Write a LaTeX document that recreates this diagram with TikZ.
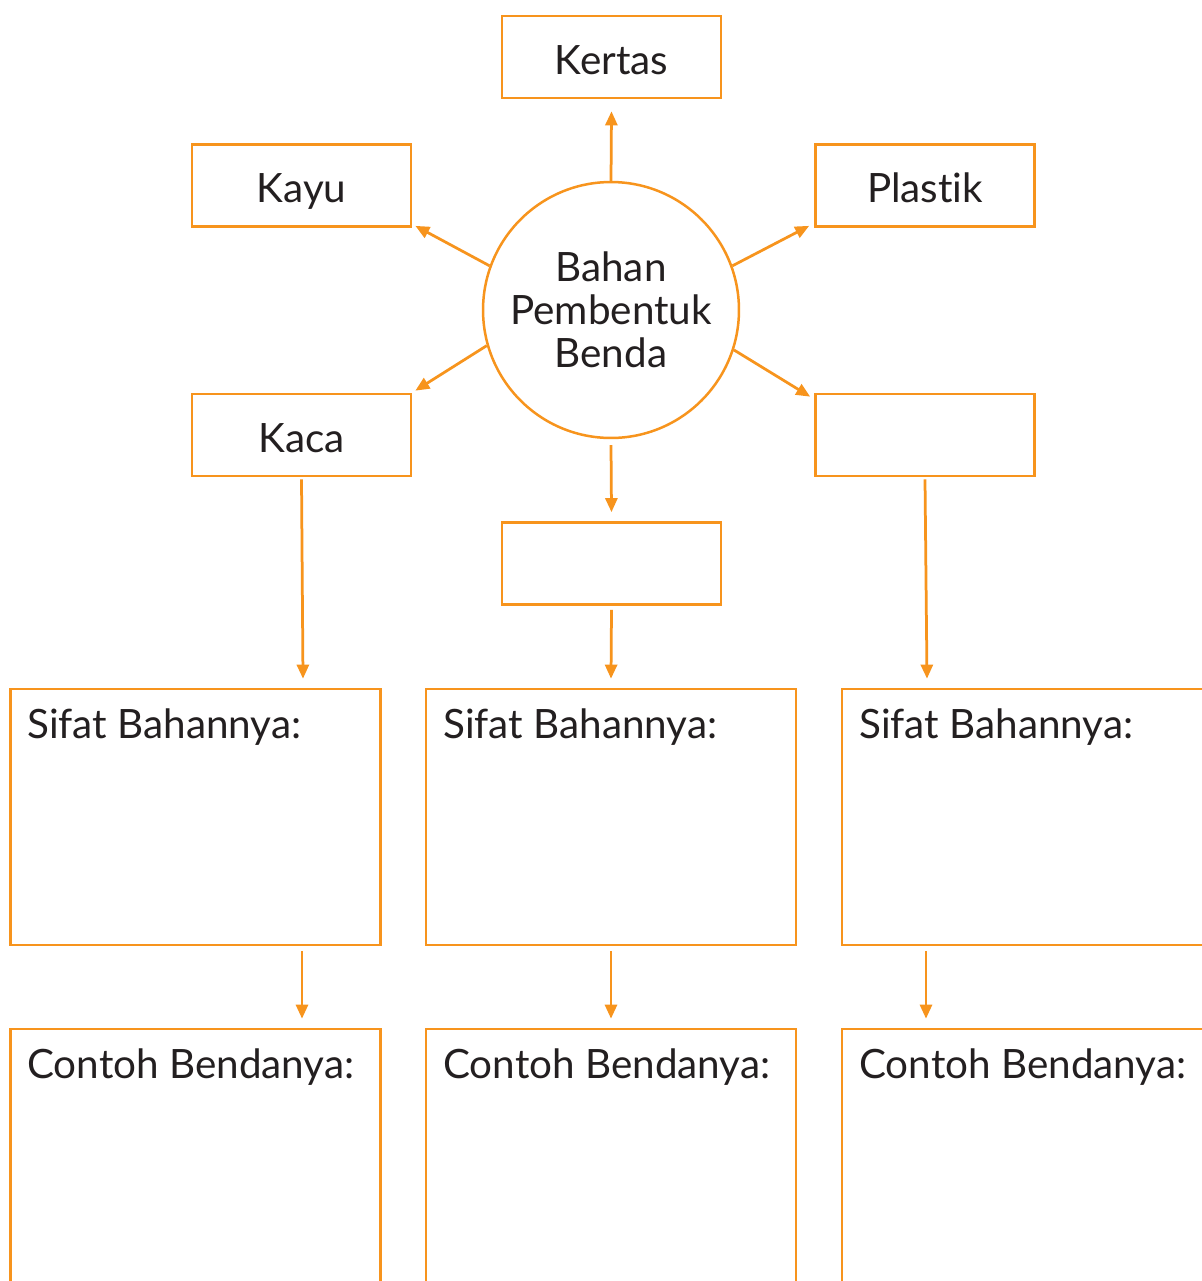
\documentclass[tikz,border=0pt]{standalone}
\usepackage{fontspec}
\setmainfont{Lato}[Ligatures=NoCommon]
\usetikzlibrary{calc,arrows.meta}
\definecolor{org}{HTML}{F7941D}
\definecolor{txt}{HTML}{231F20}
\tikzset{
  box/.style={draw=org,line width=0.055cm,fill=none,inner sep=0pt,text=txt,font=\fontsize{23}{27}\selectfont},
  smallbox/.style={box,minimum width=4.38cm,minimum height=1.64cm},
  bigbox/.style={box,minimum width=7.4cm,minimum height=5.12cm},
  arr/.style={draw=org,line width=0.055cm,-{Triangle[length=0.28cm,width=0.24cm]}},
  lbl/.style={anchor=base west,inner sep=0pt,text=txt,font=\fontsize{23}{27}\selectfont},
  ctr/.style={anchor=base,inner sep=0pt,text=txt,font=\fontsize{23}{27}\selectfont},
}
\begin{document}
\begin{tikzpicture}[x=0.02cm,y=-0.02cm]
\useasboundingbox (0,0) rectangle (1201,1281);
\fill[white] (0,0) rectangle (1201,1281);
\node[smallbox] (kertas) at (611.5,57) {};
\node[smallbox] (kayu) at (301.5,185.5) {};
\node[smallbox] (plastik) at (925,185.5) {};
\node[smallbox] (kaca) at (301.5,435) {};
\node[smallbox] (kanan) at (925,435) {};
\node[smallbox] (tengah) at (611.5,563.5) {};
\node[ctr] (tkertas) at ($(kertas.center)+(0,17)$) {Kertas};
\node[ctr] (tkayu) at ($(kayu.center)+(0,17)$) {Kayu};
\node[ctr] (tplastik) at ($(plastik.center)+(0,17)$) {Plastik};
\node[ctr] (tkaca) at ($(kaca.center)+(0,17)$) {Kaca};
\node[box,circle,minimum size=5.12cm,line width=0.05cm,align=center,
  font=\fontsize{23}{24.4}\selectfont] (c) at (611,310) {Bahan\\Pembentuk\\Benda};
\node[bigbox] (s1) at (195.5,817) {};
\node[bigbox] (s2) at (611,817) {};
\node[bigbox] (s3) at (1027,817) {};
\node[bigbox] (c1) at (195.5,1157) {};
\node[bigbox] (c2) at (611,1157) {};
\node[bigbox] (c3) at (1027,1157) {};
\node[lbl] (ts1) at (27,738) {Sifat Bahannya:};
\node[lbl] (ts2) at (443,738) {Sifat Bahannya:};
\node[lbl] (ts3) at (859,738) {Sifat Bahannya:};
\node[lbl] (tc1) at (27,1078) {Contoh Bendanya:};
\node[lbl] (tc2) at (443,1078) {Contoh Bendanya:};
\node[lbl] (tc3) at (859,1078) {Contoh Bendanya:};
% arrows from circle
\draw[arr] (c.north) -- ($(kertas.south)+(0,12)$);
\draw[arr] (c.160) -- ($(kayu.south east)+(3,-2)$);
\draw[arr] (c.20) -- ($(plastik.south west)+(-5,-2)$);
\draw[arr] (c.196) -- ($(kaca.north east)+(3,-2)$);
\draw[arr] (c.342) -- ($(kanan.north west)+(-4,4)$);
\draw[arr] ($(c.south)+(0,6)$) -- ($(tengah.north)+(0,-9)$);
% down arrows
\draw[arr] ($(kaca.south)+(0,2)$) -- ($(s1.north)+(107.5,-9)$);
\draw[arr] ($(tengah.south)+(0,4)$) -- ($(s2.north)+(0,-9)$);
\draw[arr] ($(kanan.south)+(0,2)$) -- ($(s3.north)+(-100,-9)$);
\draw[arr] ($(s1.south)+(106.5,5)$) -- ($(c1.north)+(106.5,-9)$);
\draw[arr] ($(s2.south)+(0,5)$) -- ($(c2.north)+(0,-9)$);
\draw[arr] ($(s3.south)+(-101,5)$) -- ($(c3.north)+(-101,-9)$);
\end{tikzpicture}
\end{document}
